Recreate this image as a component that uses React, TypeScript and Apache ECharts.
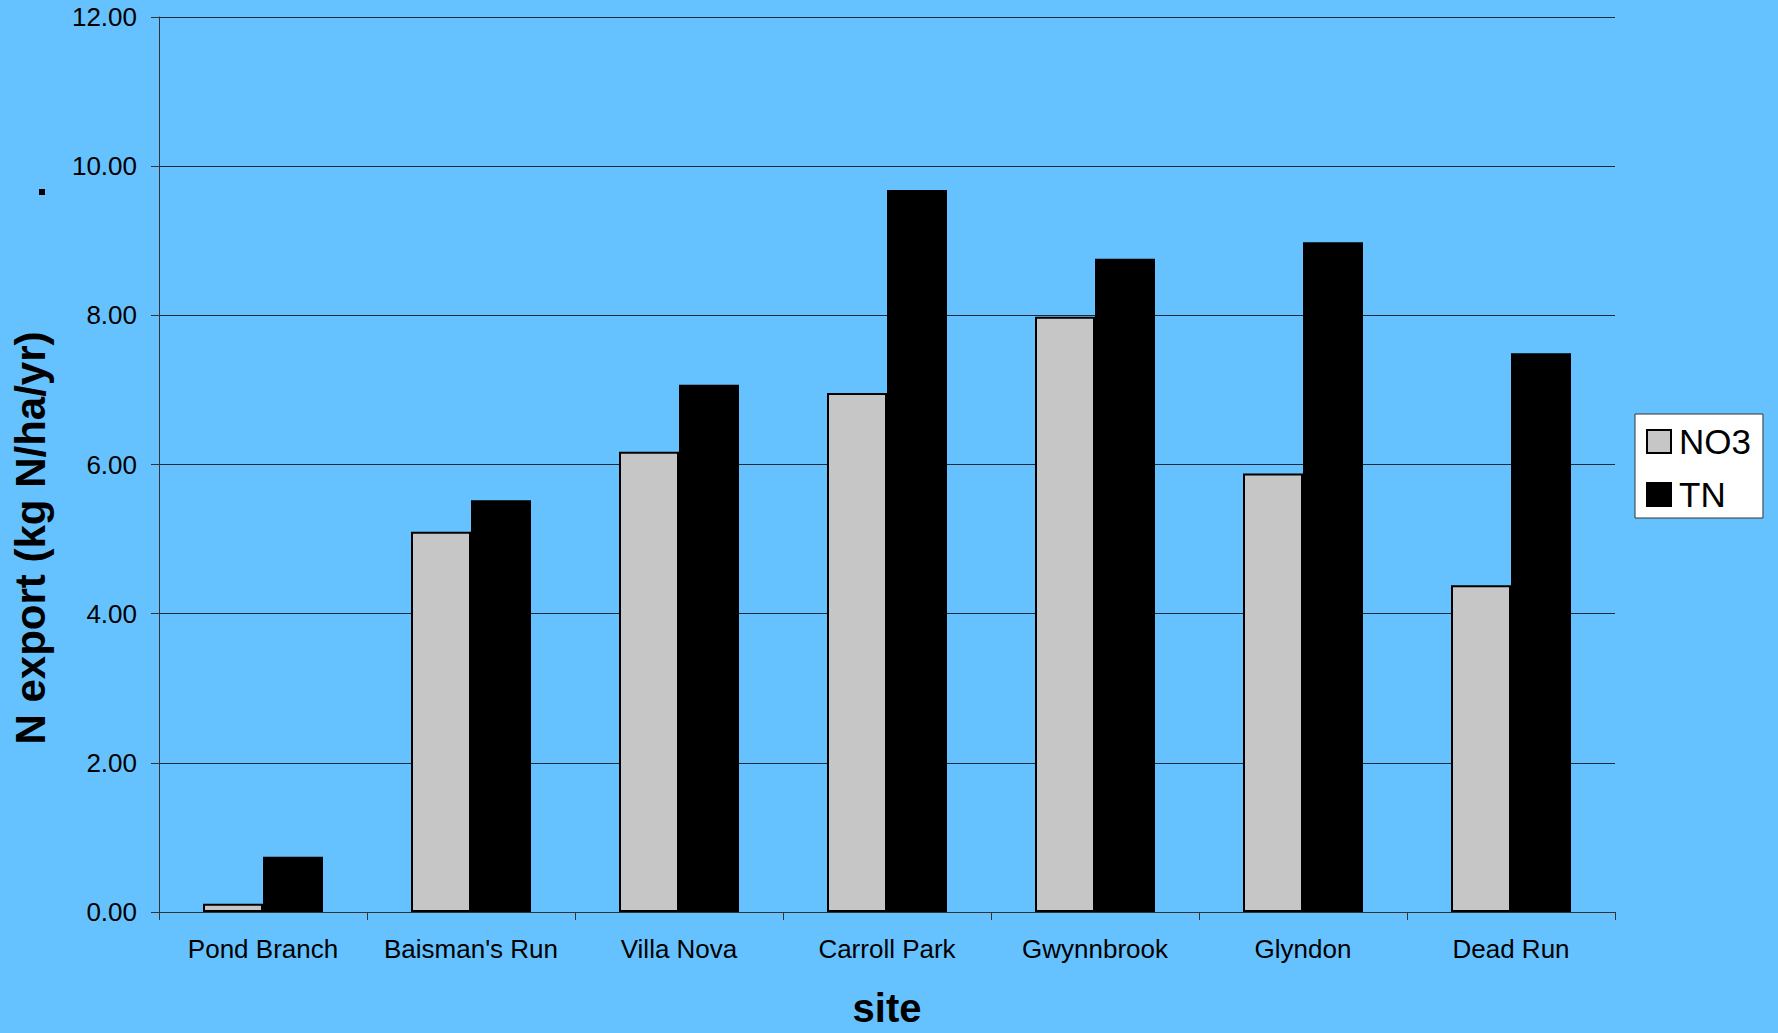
import React, { useEffect, useRef } from "react";
import * as echarts from "echarts";

// Sites along the x axis
const sites = [
  "Pond Branch",
  "Baisman's Run",
  "Villa Nova",
  "Carroll Park",
  "Gwynnbrook",
  "Glyndon",
  "Dead Run",
];

// Nitrogen export, kg N/ha/yr
const no3Values = [0.11, 5.1, 6.17, 6.96, 7.98, 5.88, 4.38];
const tnValues = [0.74, 5.52, 7.07, 9.68, 8.76, 8.98, 7.49];

// Y axis range and step
const yMin = 0;
const yMax = 12;
const yStep = 2;

const FONT = '"Liberation Sans", Arial, Helvetica, sans-serif';

export default function App() {
  const ref = useRef<HTMLDivElement>(null);

  useEffect(() => {
    if (!ref.current) return;
    document.body.style.margin = "0";
    document.body.style.overflow = "hidden";
    const chart = echarts.init(ref.current, undefined, { renderer: "svg" });

    chart.setOption({
      animation: false,
      backgroundColor: "#66c2ff",
      textStyle: { fontFamily: FONT },
      grid: { left: 159, top: 17, width: 1456, height: 899, containLabel: false },
      legend: {
        orient: "vertical",
        left: 1635,
        top: 414,
        itemWidth: 24,
        itemHeight: 23,
        itemGap: 18,
        padding: [10, 12, 6, 11],
        backgroundColor: "#ffffff",
        borderColor: "#333333",
        borderWidth: 1,
        icon: "rect",
        textStyle: {
          fontFamily: FONT,
          fontSize: 35,
          color: "#000",
          padding: [0, 0, 0, 3],
        },
        data: ["NO3", "TN"],
      },
      xAxis: {
        type: "category",
        data: sites,
        boundaryGap: true,
        name: "site",
        nameLocation: "middle",
        nameGap: 76,
        nameTextStyle: {
          fontFamily: FONT,
          fontSize: 40,
          fontWeight: "bold",
          color: "#000",
        },
        axisLine: { show: true, lineStyle: { color: "#333", width: 1 } },
        axisTick: { show: true, length: 8, lineStyle: { color: "#333", width: 1 } },
        axisLabel: {
          interval: 0,
          margin: 24,
          fontFamily: FONT,
          fontSize: 26,
          color: "#000",
        },
        splitLine: { show: false },
      },
      yAxis: {
        type: "value",
        min: yMin,
        max: yMax,
        interval: yStep,
        axisLine: { show: true, lineStyle: { color: "#333", width: 1 } },
        axisTick: { show: true, length: 8, lineStyle: { color: "#333", width: 1 } },
        axisLabel: {
          margin: 22,
          fontFamily: FONT,
          fontSize: 26,
          color: "#000",
          formatter: (v: number) => v.toFixed(2),
        },
        splitLine: { show: true, lineStyle: { color: "#1a2a38", width: 1 } },
      },
      series: [
        {
          name: "NO3",
          type: "bar",
          data: no3Values,
          barWidth: 60,
          barGap: "0%",
          itemStyle: { color: "#c6c6c6", borderColor: "#000", borderWidth: 2 },
        },
        {
          name: "TN",
          type: "bar",
          data: tnValues,
          barWidth: 60,
          barGap: "0%",
          itemStyle: { color: "#000", borderColor: "#000", borderWidth: 2 },
        },
      ],
      graphic: [
        {
          type: "text",
          x: 30,
          y: 538,
          rotation: Math.PI / 2,
          style: {
            text: "N export (kg N/ha/yr)",
            fontFamily: FONT,
            fontSize: 42,
            fontWeight: "bold",
            fill: "#000",
            align: "center",
            verticalAlign: "middle",
          },
        },
        {
          type: "rect",
          shape: { x: 39, y: 189, width: 6, height: 6 },
          style: { fill: "#000" },
        },
      ],
    });

    return () => chart.dispose();
  }, []);

  return (
    <div
      ref={ref}
      style={{ position: "absolute", left: 0, top: 0, width: 1778, height: 1033 }}
    />
  );
}
